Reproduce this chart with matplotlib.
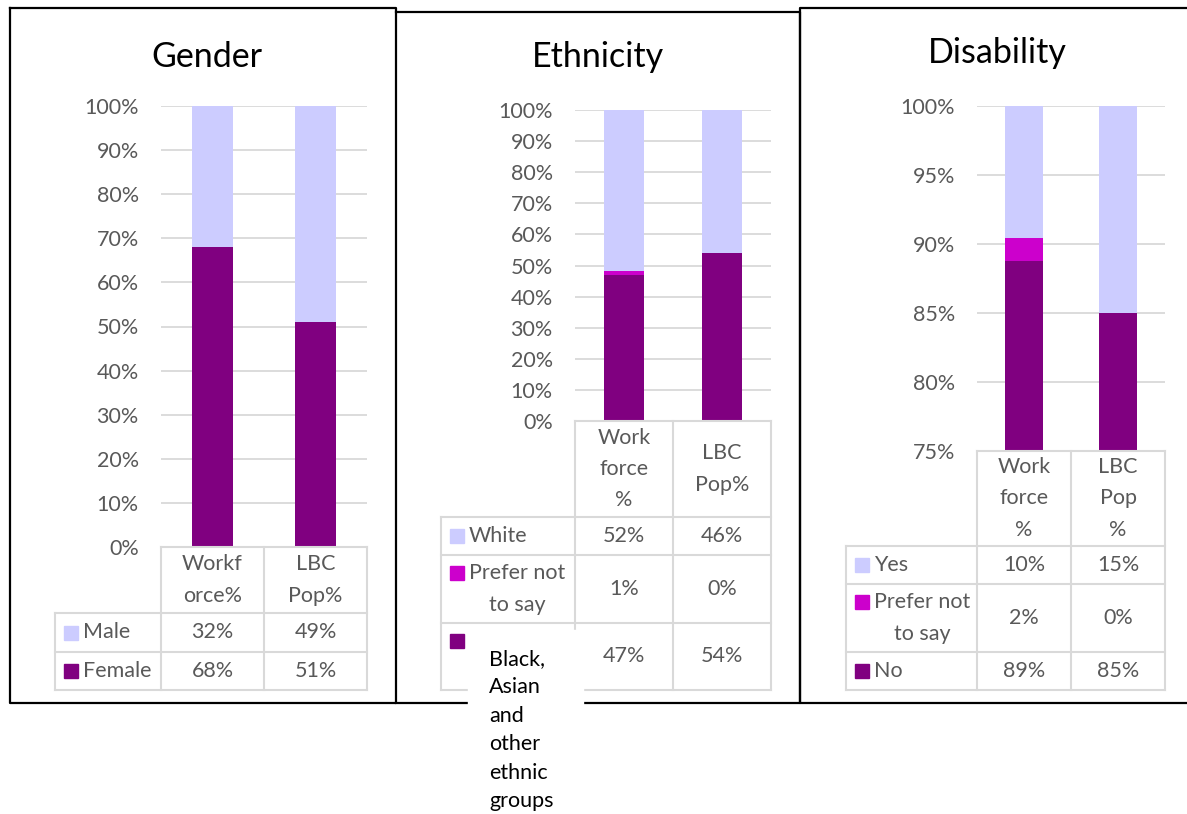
import matplotlib.pyplot as plt
from matplotlib.patches import Rectangle

plt.rcParams['font.family'] = ['Lato', 'DejaVu Sans']

W, H = 1187, 814

LIGHT = '#CCCCFF'
MAGENTA = '#CC00CC'
PURPLE = '#800080'
GRID = '#D9D9D9'
GREY_TEXT = '#595959'
FS = 15.5

# Gender (series listed bottom to top of the stack)
gender_cols = ['Workf\norce%', 'LBC\nPop%']
gender_names = ['Female', 'Male']
gender_female = [68, 51]
gender_male = [32, 49]

# Ethnicity
eth_cols = ['Work\nforce\n%', 'LBC\nPop%']
eth_names = ['Black, Asian and other ethnic groups', 'Prefer not\nto say', 'White']
eth_bame = [47, 54]
eth_prefer = [1.2, 0]
eth_white = [51.8, 46]

# Disability
dis_cols = ['Work\nforce\n%', 'LBC\nPop\n%']
dis_names = ['No', 'Prefer not\nto say', 'Yes']
dis_no = [88.8, 85]
dis_prefer = [1.6, 0]
dis_yes = [9.6, 15]


def px(x0, y0, x1, y1):
    return [x0 / W, 1 - y1 / H, (x1 - x0) / W, (y1 - y0) / H]


def panel(fig, cols, names, values, colors, ylim, step, box, tleft, rows,
          hide_first=False):
    x0, y0, x1, y1 = box
    ax = fig.add_axes(px(x0, y0, x1, y1))
    bottom = [0, 0]
    for vals, c in zip(values, colors):
        ax.bar(range(2), vals, 0.4, bottom=bottom, color=c, zorder=2)
        bottom = [b + v for b, v in zip(bottom, vals)]
    ax.set_xlim(-0.5, 1.5)
    ax.set_ylim(*ylim)
    ticks = list(range(ylim[0], ylim[1] + 1, step))
    ax.set_yticks(ticks)
    ax.set_yticklabels([f'{t}%' for t in ticks])
    ax.set_xticks([])
    ax.grid(axis='y', color=GRID, lw=1.3, zorder=0)
    for s in ax.spines.values():
        s.set_visible(False)
    ax.tick_params(axis='y', length=0, pad=16, labelsize=FS,
                   labelcolor=GREY_TEXT)

    # data table below the plot, in pixel coordinates
    tb = fig.add_axes(px(tleft, y1, x1, rows[-1]))
    tb.set_xlim(tleft, x1)
    tb.set_ylim(rows[-1], y1)
    tb.axis('off')
    xm = (x0 + x1) / 2
    kw = dict(color=GRID, lw=1.5, clip_on=False, solid_capstyle='projecting')
    tb.plot([x0, x1], [y1, y1], **kw)
    for y in rows:
        tb.plot([tleft, x1], [y, y], **kw)
    for x in (x0, xm, x1):
        tb.plot([x, x], [y1, rows[-1]], **kw)
    tb.plot([tleft, tleft], [rows[0], rows[-1]], **kw)

    centers = [(x0 + xm) / 2, (xm + x1) / 2]
    for cx, lab in zip(centers, cols):
        tb.text(cx, (y1 + rows[0]) / 2, lab, ha='center', va='center',
                fontsize=FS, color=GREY_TEXT, linespacing=1.7)

    items = list(zip(names, values, colors))[::-1]
    for i, (name, vals, c) in enumerate(items):
        rt, rb = rows[i], rows[i + 1]
        hidden = hide_first and i == len(items) - 1
        cy = rt + 18 if ('\n' in name or hidden) else (rt + rb) / 2
        sx = tleft + 9
        tb.add_patch(Rectangle((sx, cy - 7), 14, 14, color=c, clip_on=False))
        if not hidden:
            tb.text(sx + 19, (rt + rb) / 2, name, ha='left', va='center',
                    fontsize=FS, color=GREY_TEXT, linespacing=1.7,
                    multialignment='center')
        for cx, v in zip(centers, vals):
            tb.text(cx, (rt + rb) / 2, f'{round(v)}%', ha='center',
                    va='center', fontsize=FS, color=GREY_TEXT)


fig = plt.figure(figsize=(W / 100, H / 100), dpi=100)

panel(fig, gender_cols, gender_names, [gender_female, gender_male],
      [PURPLE, LIGHT], (0, 100), 10, (161, 106, 367, 547), 55,
      [613, 652, 690])
panel(fig, eth_cols, eth_names, [eth_bame, eth_prefer, eth_white],
      [PURPLE, MAGENTA, LIGHT], (0, 100), 10, (575, 110, 771, 421), 441,
      [517, 555, 623, 690], hide_first=True)
panel(fig, dis_cols, dis_names, [dis_no, dis_prefer, dis_yes],
      [PURPLE, MAGENTA, LIGHT], (75, 100), 5, (977, 106, 1165, 451), 846,
      [546, 584, 652, 690])

# overlay: panel frames, titles and the overflowing legend label
ov = fig.add_axes([0, 0, 1, 1])
ov.set_xlim(0, W)
ov.set_ylim(H, 0)
ov.axis('off')
frame = dict(color='black', lw=1.6, solid_capstyle='projecting')
ov.plot([10, 396, 396, 10, 10], [7.5, 7.5, 703, 703, 7.5], **frame)
ov.plot([396, 800, 800, 396], [11.5, 11.5, 703, 703], **frame)
ov.plot([1190, 800, 800, 1190], [7.5, 7.5, 703, 703], **frame)

ov.text(207, 67, 'Gender', ha='center', va='baseline', fontsize=24.5)
ov.text(598, 67, 'Ethnicity', ha='center', va='baseline', fontsize=24.5)
ov.text(997, 63, 'Disability', ha='center', va='baseline', fontsize=24.5)

ov.add_patch(Rectangle((468, 630), 115, 190, color='white', zorder=5))
ov.text(489, 649, '\n'.join(eth_names[0].split()), ha='left', va='top',
        fontsize=FS, color='black', linespacing=1.53, zorder=6)

fig.savefig('out.png', dpi=100, facecolor='white')
